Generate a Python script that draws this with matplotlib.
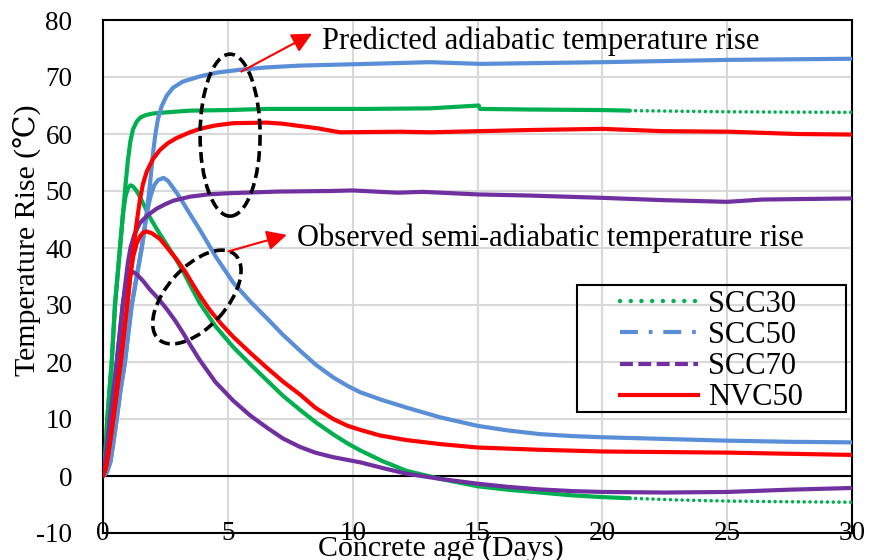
import matplotlib
matplotlib.use("Agg")
import matplotlib.pyplot as plt
from matplotlib.patches import Ellipse, Rectangle
from matplotlib.lines import Line2D
from matplotlib.transforms import Affine2D

plt.rcParams['font.family'] = ['Liberation Serif', 'DejaVu Serif', 'DejaVu Sans']
plt.rcParams['axes.unicode_minus'] = False

# ---------------- data ----------------
series_names = ["SCC30", "SCC50", "SCC70", "NVC50"]
series_colors = ["#00B050", "#5A8FD8", "#7030A0", "#FF0000"]

# SCC30 (green)
scc30_adia_days = [0, 0.05, 0.1, 0.17, 0.26, 0.35, 0.48, 0.6, 0.7, 0.8, 0.9, 1.0, 1.1, 1.2,
                   1.35, 1.5, 1.7, 2.0, 2.55, 3.5, 5.0, 6.56, 8.0, 10.6, 13.1, 15.05, 15.1,
                   17.0, 20.0, 21.1]
scc30_adia_vals = [0, 1.5, 4, 10, 15, 20, 30, 36, 41, 46, 51, 55.5, 58.8, 60.8,
                   62.2, 62.9, 63.3, 63.6, 63.8, 64.1, 64.2, 64.4, 64.4, 64.4, 64.5, 65.0, 64.4,
                   64.3, 64.2, 64.1]
scc30_adia_tail_days = [21.1, 23.0, 25.0, 27.0, 30.0]
scc30_adia_tail_vals = [64.1, 64.0, 63.9, 63.85, 63.8]
scc30_semi_days = [0, 0.05, 0.1, 0.17, 0.26, 0.35, 0.48, 0.6, 0.7, 0.8, 0.9, 1.0, 1.1, 1.2,
                   1.35, 1.5, 1.7, 1.9, 2.2, 2.55, 2.9, 3.22, 3.55, 3.88, 4.5, 5.22, 5.9,
                   6.56, 7.2, 7.89, 8.5, 9.22, 9.8, 10.3, 11.2, 12.16, 13.5, 15.0, 16.2,
                   17.5, 18.8, 20.0, 21.1]
scc30_semi_vals = [0, 1.5, 4, 10, 15, 20, 30, 36, 41, 46, 49, 50.5, 51.0, 50.8,
                   50.0, 48.8, 47.0, 45.2, 43.0, 40.6, 38.2, 35.8, 33.0, 30.3, 26.3, 22.6, 19.6,
                   16.8, 14.1, 11.6, 9.5, 7.3, 5.7, 4.5, 2.6, 0.9, -0.5, -1.8, -2.4,
                   -2.9, -3.4, -3.7, -3.9]
scc30_semi_tail_days = [21.1, 23.0, 25.0, 27.0, 30.0]
scc30_semi_tail_vals = [-3.9, -4.2, -4.4, -4.5, -4.6]

# SCC50 (blue)
scc50_adia_days = [0, 0.15, 0.3, 0.42, 0.55, 0.7, 0.88, 1.0, 1.15, 1.35, 1.55, 1.75, 1.9,
                   2.0, 2.1, 2.2, 2.35, 2.55, 2.8, 3.2, 3.88, 4.6, 5.55, 6.6, 7.9, 10.6,
                   13.1, 15.1, 20.0, 25.0, 30.0]
scc50_adia_vals = [0, 0.6, 2.5, 6, 10, 15, 20, 24.5, 30, 35, 40, 46, 52,
                   56.5, 60, 62.6, 64.9, 66.7, 68.1, 69.2, 70.1, 70.8, 71.3, 71.7, 72.0, 72.3,
                   72.6, 72.3, 72.6, 73.0, 73.2]
scc50_semi_days = [0, 0.15, 0.3, 0.42, 0.55, 0.7, 0.88, 1.0, 1.15, 1.35, 1.55, 1.75, 1.9,
                   2.05, 2.2, 2.42, 2.6, 2.8, 2.95, 3.2, 3.42, 3.88, 4.5, 5.22, 5.9, 6.56,
                   7.2, 7.89, 8.5, 9.22, 9.8, 10.3, 11.2, 12.16, 13.5, 15.0, 16.2, 17.5,
                   18.8, 20.0, 22.5, 25.0, 27.5, 30.0]
scc50_semi_vals = [0, 0.6, 2.5, 6, 10, 15, 20, 24.5, 30, 35, 40, 46, 49,
                   51.0, 51.9, 52.3, 51.8, 50.6, 49.7, 48.0, 46.4, 43.2, 38.6, 33.9, 30.6, 27.7,
                   24.8, 22.0, 19.6, 17.3, 15.8, 14.7, 13.3, 12.0, 10.3, 8.8, 8.0, 7.35,
                   7.0, 6.8, 6.5, 6.2, 6.0, 5.9]

# SCC70 (purple)
scc70_adia_days = [0, 0.06, 0.12, 0.2, 0.28, 0.42, 0.55, 0.67, 0.79, 0.9, 1.0, 1.1, 1.25,
                   1.48, 1.8, 2.15, 2.5, 2.82, 3.48, 4.2, 5.0, 7.0, 9.1, 10.0, 11.8, 12.8,
                   15.0, 17.1, 20.0, 22.4, 25.0, 26.4, 30.0]
scc70_adia_vals = [0, 1.5, 3.5, 6.5, 10, 15, 20, 25, 30, 34, 37.5, 40.0, 42.3,
                   44.4, 45.8, 46.9, 47.7, 48.3, 49.0, 49.4, 49.6, 49.9, 50.0, 50.1, 49.7, 49.85,
                   49.4, 49.2, 48.8, 48.4, 48.1, 48.5, 48.7]
scc70_semi_days = [0, 0.06, 0.12, 0.2, 0.28, 0.42, 0.55, 0.67, 0.79, 0.9, 1.0, 1.1, 1.2,
                   1.35, 1.61, 1.88, 2.2, 2.55, 2.9, 3.22, 3.55, 3.88, 4.5, 5.22, 5.9, 6.56,
                   7.2, 7.89, 8.5, 9.22, 10.3, 11.2, 12.16, 13.5, 15.0, 16.2, 17.5, 18.8,
                   20.0, 22.5, 25.0, 27.5, 30.0]
scc70_semi_vals = [0, 1.5, 3.5, 6.5, 10, 15, 20, 25, 30, 33, 34.8, 35.6, 35.8,
                   35.4, 34.2, 32.7, 31.2, 29.3, 27.2, 25.0, 22.6, 20.3, 16.5, 13.2, 10.6, 8.5,
                   6.6, 5.1, 4.1, 3.3, 2.4, 1.4, 0.4, -0.5, -1.35, -1.9, -2.35, -2.65,
                   -2.8, -2.9, -2.8, -2.4, -2.1]

# NVC50 (red)
nvc50_adia_days = [0, 0.1, 0.2, 0.3, 0.41, 0.56, 0.71, 0.84, 0.97, 1.09, 1.21, 1.35, 1.48,
                   1.6, 1.75, 2.0, 2.28, 2.6, 2.95, 3.48, 3.88, 4.5, 5.22, 6.56, 7.2, 7.9,
                   8.6, 9.22, 9.5, 11.9, 13.1, 17.1, 20.0, 22.4, 25.1, 27.8, 30.0]
nvc50_adia_vals = [0, 1.2, 3.5, 6.5, 10, 15, 20, 25, 30, 35, 39.5, 44.5, 48.5,
                   51.2, 53.4, 55.6, 57.2, 58.4, 59.3, 60.3, 60.9, 61.5, 61.9, 62.0, 61.8, 61.4,
                   61.0, 60.5, 60.3, 60.4, 60.3, 60.7, 60.9, 60.5, 60.4, 60.0, 59.9]
nvc50_semi_days = [0, 0.1, 0.2, 0.3, 0.41, 0.56, 0.71, 0.84, 0.97, 1.09, 1.21, 1.35, 1.48,
                   1.6, 1.75, 1.95, 2.28, 2.6, 2.95, 3.3, 3.6, 3.9, 4.28, 4.75, 5.22, 5.9,
                   6.56, 7.2, 7.89, 8.5, 9.22, 9.8, 10.3, 11.1, 12.16, 13.5, 15.0, 17.5,
                   20.0, 22.5, 25.0, 27.5, 30.0]
nvc50_semi_vals = [0, 1.2, 3.5, 6.5, 10, 15, 20, 25, 30, 35, 38.5, 40.8, 42.0,
                   42.7, 42.9, 42.6, 41.6, 39.9, 38.0, 35.8, 33.6, 31.5, 29.1, 26.6, 24.4, 21.6,
                   19.0, 16.6, 14.3, 12.0, 10.0, 8.8, 8.1, 7.1, 6.3, 5.6, 5.0, 4.6,
                   4.3, 4.2, 4.1, 3.9, 3.7]

x_ticks = [0, 5, 10, 15, 20, 25, 30]
y_ticks = [-10, 0, 10, 20, 30, 40, 50, 60, 70, 80]
x_label = "Concrete age (Days)"
y_label = "Temperature Rise (\u2103)"
note_adiabatic = "Predicted adiabatic temperature rise"
note_semi = "Observed semi-adiabatic temperature rise"

# ---------------- figure ----------------
W, H = 877, 560
fig = plt.figure(figsize=(W / 100, H / 100), dpi=100)
L, R, T, B = 103, 852, 20, 533
ax = fig.add_axes([L / W, 1 - B / H, (R - L) / W, (B - T) / H])
ax.set_xlim(0, 30)
ax.set_ylim(-10, 80)
sx = (R - L) / 30.0   # px per day
sy = (B - T) / 90.0   # px per degree

ax.set_xticks(x_ticks)
ax.set_yticks(y_ticks)
ax.grid(True, color="#D9D9D9", lw=1.5, zorder=0)
ax.set_axisbelow(True)
for s in ax.spines.values():
    s.set_color("black")
    s.set_linewidth(1.5)
ax.axhline(0, color="black", lw=1.5, zorder=1.5)

ax.tick_params(axis="both", length=0, labelsize=19.5)
ax.tick_params(axis="y", pad=22)
ax.tick_params(axis="x", pad=0)
for lbl in ax.get_xticklabels():
    lbl.set_verticalalignment("center")

lw = 3.0
curves = [
    (scc30_adia_days, scc30_adia_vals, scc30_semi_days, scc30_semi_vals),
    (scc50_adia_days, scc50_adia_vals, scc50_semi_days, scc50_semi_vals),
    (scc70_adia_days, scc70_adia_vals, scc70_semi_days, scc70_semi_vals),
    (nvc50_adia_days, nvc50_adia_vals, nvc50_semi_days, nvc50_semi_vals),
]
for i, (ad, av, sd, sv) in enumerate(curves):
    ax.plot(ad, av, color=series_colors[i], lw=lw, solid_capstyle="round",
            solid_joinstyle="round", zorder=3 + i)
    ax.plot(sd, sv, color=series_colors[i], lw=lw, solid_capstyle="round",
            solid_joinstyle="round", zorder=3 + i)
# dotted tails of SCC30
for d, v in [(scc30_adia_tail_days, scc30_adia_tail_vals),
             (scc30_semi_tail_days, scc30_semi_tail_vals)]:
    ax.plot(d, v, color=series_colors[0], lw=2.6, linestyle=(0, (0.01, 1.6)),
            dash_capstyle="round", zorder=3)

# ---------------- annotations ----------------
def px_ellipse(cx, cy, w_px, h_px, ang):
    tr = Affine2D().scale(1 / sx, 1 / sy).translate(cx, cy) + ax.transData
    e = Ellipse((0, 0), w_px, h_px, angle=ang, fill=False, edgecolor="black",
                lw=2.6, linestyle=(0, (3.0, 1.5)), transform=tr, zorder=10)
    ax.add_patch(e)

px_ellipse(5.09, 59.8, 60, 162, 0)
px_ellipse(3.76, 31.4, 114, 60, 48)

arrow_kw = dict(arrowstyle="-|>", color="red", lw=1.5, mutation_scale=30,
                shrinkA=0, shrinkB=0)
ax.annotate("", xy=(8.37, 77.6), xytext=(5.54, 70.95), arrowprops=arrow_kw, zorder=11)
ax.annotate("", xy=(7.36, 42.3), xytext=(5.02, 39.4), arrowprops=arrow_kw, zorder=11)
ax.text(8.77, 75.0, note_adiabatic, fontsize=22, ha="left", va="baseline", zorder=12)
ax.text(7.77, 40.4, note_semi, fontsize=22, ha="left", va="baseline", zorder=12)

# ---------------- legend ----------------
box = Rectangle(((576.7 - L) / (R - L), (B - 411.7) / (B - T)),
                (846 - 576.7) / (R - L), (411.7 - 285) / (B - T),
                transform=ax.transAxes, fill=False, edgecolor="black", lw=1.5, zorder=12)
ax.add_patch(box)
handles = [
    Line2D([], [], color=series_colors[0], lw=3.2, linestyle=(0, (0.01, 2.4)),
           dash_capstyle="round"),
    Line2D([], [], color=series_colors[1], lw=3, linestyle=(0, (4.3, 2.6, 0.9, 2.6))),
    Line2D([], [], color=series_colors[2], lw=3, linestyle=(0, (3.1, 1.3))),
    Line2D([], [], color=series_colors[3], lw=3),
]
leg = ax.legend(handles, series_names, loc="upper left",
                bbox_to_anchor=((620 - L) / (R - L), (B - 290) / (B - T)),
                frameon=False, fontsize=22, borderpad=0, borderaxespad=0,
                handlelength=2.55, handletextpad=0.33, labelspacing=0.07)
leg.set_zorder(13)

# ---------------- axis labels ----------------
fig.text(441 / W, 1 - 556 / H, x_label, fontsize=21.5, ha="center", va="baseline")
fig.text(27 / W, 1 - 240 / H, y_label, fontsize=21.5, ha="center", va="center",
         rotation=90)

fig.savefig("out.png", dpi=100)
